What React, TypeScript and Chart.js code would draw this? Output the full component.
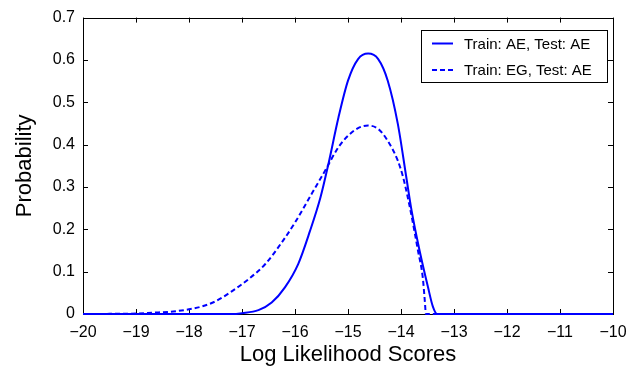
import { useEffect, useRef } from "react";
import { Chart, registerables } from "chart.js";

Chart.register(...registerables);

// Score axis and probability axis ticks
const xTicks = [-20, -19, -18, -17, -16, -15, -14, -13, -12, -11, -10];
const yTicks = [0, 0.1, 0.2, 0.3, 0.4, 0.5, 0.6, 0.7];

const seriesLabels = ["Train: AE, Test: AE", "Train: EG, Test: AE"];

// Train: AE, Test: AE (solid)
const aeScores = [-20, -17.2, -17, -16.69, -16.44, -16.19, -15.94, -15.72, -15.52, -15.37, -15.18, -15, -14.81, -14.62, -14.43, -14.25, -14.06, -13.9, -13.8, -13.65, -13.49, -13.4, -13.32, -12, -10];
const aeProb = [0, 0, 0.002, 0.009, 0.027, 0.063, 0.118, 0.195, 0.275, 0.354, 0.464, 0.551, 0.602, 0.615, 0.602, 0.551, 0.449, 0.323, 0.244, 0.15, 0.063, 0.018, 0, 0, 0];

// Train: EG, Test: AE (dashed)
const egScores = [-20, -19.5, -19, -18.7, -18.3, -18, -17.75, -17.5, -17.2, -16.87, -16.56, -16.25, -16, -15.68, -15.43, -15.18, -15, -14.81, -14.62, -14.43, -14.25, -14.06, -13.96, -13.82, -13.68, -13.59, -13.55, -13.53, -12, -10];
const egProb = [0, 0.0003, 0.001, 0.003, 0.006, 0.011, 0.018, 0.03, 0.053, 0.083, 0.118, 0.169, 0.216, 0.285, 0.339, 0.394, 0.421, 0.439, 0.445, 0.437, 0.409, 0.362, 0.323, 0.244, 0.15, 0.087, 0.03, 0, 0, 0];

const FONT = "'Liberation Sans', Arial, Helvetica, sans-serif";

const boxPlugin = {
  id: "boxTicks",
  beforeDatasetsDraw(chart: any) {
    const { ctx, chartArea: a, scales } = chart;
    ctx.save();
    ctx.strokeStyle = "#000";
    ctx.lineWidth = 1;
    ctx.beginPath();
    for (const v of xTicks) {
      const px = Math.round(scales.x.getPixelForValue(v)) + 0.5;
      ctx.moveTo(px, a.bottom);
      ctx.lineTo(px, a.bottom - 5);
      ctx.moveTo(px, a.top);
      ctx.lineTo(px, a.top + 5);
    }
    for (const v of yTicks) {
      const py = Math.round(scales.y.getPixelForValue(v)) + 0.5;
      ctx.moveTo(a.left, py);
      ctx.lineTo(a.left + 5, py);
      ctx.moveTo(a.right, py);
      ctx.lineTo(a.right - 5, py);
    }
    ctx.stroke();
    ctx.strokeRect(Math.round(a.left) + 0.5, Math.round(a.top) + 0.5, Math.round(a.right - a.left), Math.round(a.bottom - a.top));
    ctx.restore();
  },
};

const legendPlugin = {
  id: "boxedLegend",
  afterDatasetsDraw(chart: any) {
    const { ctx } = chart;
    const x0 = 421, y0 = 30, w = 186, h = 52;
    ctx.save();
    ctx.fillStyle = "#fff";
    ctx.fillRect(x0, y0, w, h);
    ctx.strokeStyle = "#000";
    ctx.lineWidth = 1;
    ctx.strokeRect(x0 + 0.5, y0 + 0.5, w, h);
    const rows = [43.5, 70];
    chart.data.datasets.forEach((ds: any, i: number) => {
      const y = rows[i];
      ctx.strokeStyle = ds.borderColor;
      ctx.lineWidth = ds.borderWidth;
      ctx.setLineDash(ds.borderDash || []);
      ctx.beginPath();
      ctx.moveTo(432, y);
      ctx.lineTo(453, y);
      ctx.stroke();
      ctx.setLineDash([]);
      ctx.fillStyle = "#000";
      ctx.font = `15px ${FONT}`;
      ctx.textBaseline = "middle";
      ctx.textAlign = "left";
      ctx.fillText(ds.label, 464, y + 1);
    });
    ctx.restore();
  },
};

export default function App() {
  const canvasRef = useRef<HTMLCanvasElement | null>(null);

  useEffect(() => {
    const canvas = canvasRef.current;
    if (!canvas) return;
    const chart = new Chart(canvas, {
      type: "line",
      data: {
        datasets: [
          {
            label: seriesLabels[0],
            data: aeScores.map((x, i) => ({ x, y: aeProb[i] })),
            borderColor: "#0000ff",
            borderWidth: 2,
            pointRadius: 0,
            cubicInterpolationMode: "monotone",
            fill: false,
          },
          {
            label: seriesLabels[1],
            data: egScores.map((x, i) => ({ x, y: egProb[i] })),
            borderColor: "#0000ff",
            borderWidth: 2,
            borderDash: [5, 3],
            pointRadius: 0,
            cubicInterpolationMode: "monotone",
            fill: false,
          },
        ],
      },
      options: {
        responsive: false,
        animation: false,
        clip: false,
        layout: { padding: { top: 17, right: 27, left: 0, bottom: 0 } },
        plugins: { legend: { display: false }, tooltip: { enabled: false } },
        scales: {
          x: {
            type: "linear",
            min: -20,
            max: -10,
            afterFit: (s: any) => {
              s.height = 61;
            },
            afterBuildTicks: (s: any) => {
              s.ticks = xTicks.map((v) => ({ value: v }));
            },
            ticks: {
              color: "#000",
              font: { family: FONT, size: 16 },
              padding: 9,
              maxRotation: 0,
              callback: (v: any) => (Number(v) < 0 ? "\u2212" + Math.abs(Number(v)) : String(v)),
            },
            grid: { display: false, drawTicks: false },
            border: { display: false },
            title: {
              display: true,
              text: "Log Likelihood Scores",
              color: "#000",
              font: { family: FONT, size: 22 },
              padding: { top: 0, bottom: 7 },
            },
          },
          y: {
            type: "linear",
            min: 0,
            max: 0.7,
            afterFit: (s: any) => {
              s.width = 83;
            },
            afterBuildTicks: (s: any) => {
              s.ticks = yTicks.map((v) => ({ value: v }));
            },
            ticks: {
              color: "#000",
              font: { family: FONT, size: 16 },
              padding: 8,
              callback: (v: any) => (Number(v) === 0 ? "0" : Number(v).toFixed(1)),
            },
            grid: { display: false, drawTicks: false },
            border: { display: false },
            title: {
              display: true,
              text: "Probability",
              color: "#000",
              font: { family: FONT, size: 22 },
              padding: { top: 12, bottom: 0 },
            },
          },
        },
      },
      plugins: [boxPlugin, legendPlugin],
    });
    return () => chart.destroy();
  }, []);

  return (
    <div style={{ position: "fixed", left: 0, top: 0, width: 640, height: 375, background: "#fff" }}>
      <canvas ref={canvasRef} width={640} height={375} />
    </div>
  );
}
